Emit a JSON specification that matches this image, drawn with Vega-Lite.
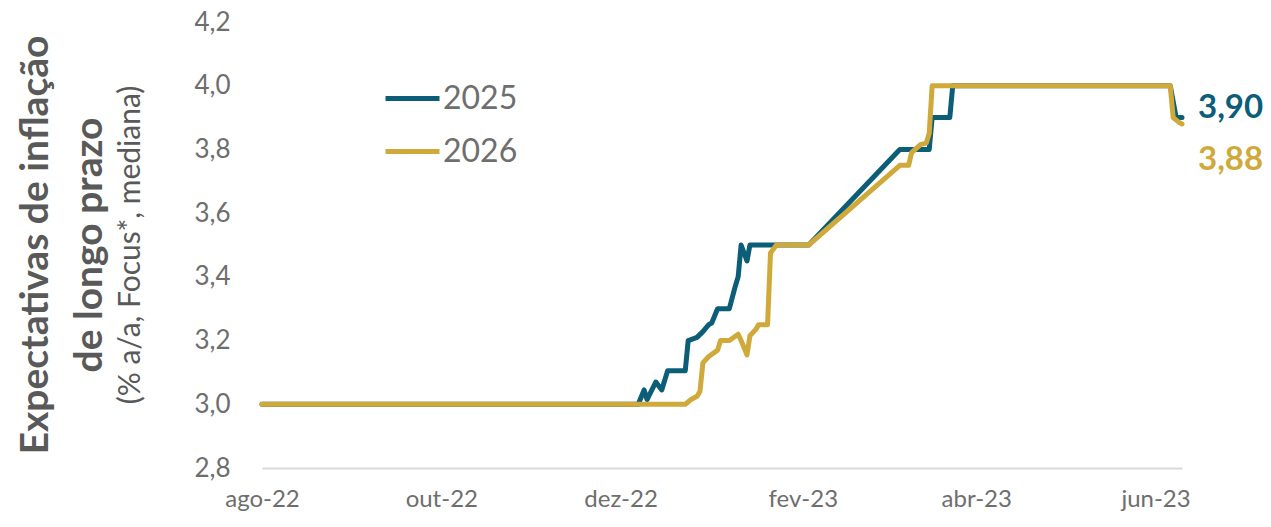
{
  "$schema": "https://vega.github.io/schema/vega-lite/v6.json",
  "autosize": {"type": "none"},
  "width": 920,
  "height": 446,
  "padding": {"left": 262, "top": 22, "right": 89, "bottom": 59},
  "background": "white",
  "config": {
    "view": {"stroke": null},
    "font": "Lato",
    "locale": {
      "number": {"decimal": ",", "thousands": ".", "grouping": [3], "currency": ["R$", ""]},
      "time": {
        "dateTime": "%A, %e de %B de %Y. %X",
        "date": "%d/%m/%Y",
        "time": "%H:%M:%S",
        "periods": ["AM", "PM"],
        "days": ["domingo", "segunda", "terça", "quarta", "quinta", "sexta", "sábado"],
        "shortDays": ["dom", "seg", "ter", "qua", "qui", "sex", "sáb"],
        "months": ["janeiro", "fevereiro", "março", "abril", "maio", "junho", "julho", "agosto", "setembro", "outubro", "novembro", "dezembro"],
        "shortMonths": ["jan", "fev", "mar", "abr", "mai", "jun", "jul", "ago", "set", "out", "nov", "dez"]
      }
    }
  },
  "title": {
    "text": ["Expectativas de inflação", "de longo prazo"],
    "subtitle": "(% a/a, Focus*, mediana)",
    "orient": "left",
    "anchor": "middle",
    "font": "Lato",
    "fontSize": 39,
    "fontWeight": "bold",
    "color": "#595959",
    "lineHeight": 54,
    "subtitleFont": "Lato",
    "subtitleFontSize": 30,
    "subtitleFontWeight": "normal",
    "subtitleColor": "#595959",
    "subtitlePadding": 6,
    "offset": 48
  },
  "data": {
    "values": [
      {"date": "2022-08-01", "series": "2025", "value": 3.0},
      {"date": "2022-12-07", "series": "2025", "value": 3.0},
      {"date": "2022-12-09", "series": "2025", "value": 3.045},
      {"date": "2022-12-10", "series": "2025", "value": 3.015},
      {"date": "2022-12-13", "series": "2025", "value": 3.07},
      {"date": "2022-12-15", "series": "2025", "value": 3.045},
      {"date": "2022-12-17", "series": "2025", "value": 3.105},
      {"date": "2022-12-23", "series": "2025", "value": 3.105},
      {"date": "2022-12-24", "series": "2025", "value": 3.2},
      {"date": "2022-12-27", "series": "2025", "value": 3.21},
      {"date": "2022-12-29", "series": "2025", "value": 3.228},
      {"date": "2022-12-31", "series": "2025", "value": 3.25},
      {"date": "2023-01-01", "series": "2025", "value": 3.255},
      {"date": "2023-01-03", "series": "2025", "value": 3.3},
      {"date": "2023-01-07", "series": "2025", "value": 3.3},
      {"date": "2023-01-09", "series": "2025", "value": 3.37},
      {"date": "2023-01-10", "series": "2025", "value": 3.4},
      {"date": "2023-01-11", "series": "2025", "value": 3.5},
      {"date": "2023-01-13", "series": "2025", "value": 3.45},
      {"date": "2023-01-14", "series": "2025", "value": 3.5},
      {"date": "2023-02-03", "series": "2025", "value": 3.5},
      {"date": "2023-03-06", "series": "2025", "value": 3.8},
      {"date": "2023-03-16", "series": "2025", "value": 3.8},
      {"date": "2023-03-17", "series": "2025", "value": 3.9},
      {"date": "2023-03-23", "series": "2025", "value": 3.9},
      {"date": "2023-03-24", "series": "2025", "value": 4.0},
      {"date": "2023-06-06", "series": "2025", "value": 4.0},
      {"date": "2023-06-08", "series": "2025", "value": 3.9},
      {"date": "2023-06-10", "series": "2025", "value": 3.9},
      {"date": "2022-08-01", "series": "2026", "value": 3.0},
      {"date": "2022-12-23", "series": "2026", "value": 3.0},
      {"date": "2022-12-25", "series": "2026", "value": 3.015},
      {"date": "2022-12-27", "series": "2026", "value": 3.025},
      {"date": "2022-12-28", "series": "2026", "value": 3.04},
      {"date": "2022-12-29", "series": "2026", "value": 3.13},
      {"date": "2022-12-31", "series": "2026", "value": 3.15},
      {"date": "2023-01-03", "series": "2026", "value": 3.17},
      {"date": "2023-01-04", "series": "2026", "value": 3.2},
      {"date": "2023-01-07", "series": "2026", "value": 3.2},
      {"date": "2023-01-10", "series": "2026", "value": 3.22},
      {"date": "2023-01-11", "series": "2026", "value": 3.2},
      {"date": "2023-01-13", "series": "2026", "value": 3.155},
      {"date": "2023-01-14", "series": "2026", "value": 3.215},
      {"date": "2023-01-16", "series": "2026", "value": 3.235},
      {"date": "2023-01-17", "series": "2026", "value": 3.25},
      {"date": "2023-01-20", "series": "2026", "value": 3.25},
      {"date": "2023-01-21", "series": "2026", "value": 3.475},
      {"date": "2023-01-23", "series": "2026", "value": 3.5},
      {"date": "2023-02-03", "series": "2026", "value": 3.5},
      {"date": "2023-03-06", "series": "2026", "value": 3.75},
      {"date": "2023-03-09", "series": "2026", "value": 3.75},
      {"date": "2023-03-10", "series": "2026", "value": 3.79},
      {"date": "2023-03-13", "series": "2026", "value": 3.815},
      {"date": "2023-03-15", "series": "2026", "value": 3.82},
      {"date": "2023-03-16", "series": "2026", "value": 3.85},
      {"date": "2023-03-17", "series": "2026", "value": 4.0},
      {"date": "2023-06-06", "series": "2026", "value": 4.0},
      {"date": "2023-06-07", "series": "2026", "value": 3.9},
      {"date": "2023-06-09", "series": "2026", "value": 3.885},
      {"date": "2023-06-10", "series": "2026", "value": 3.88}
    ]
  },
  "encoding": {
    "x": {
      "field": "date",
      "type": "temporal",
      "scale": {"type": "utc", "domain": [{"year": 2022, "month": 8, "date": 1, "utc": true}, {"year": 2023, "month": 6, "date": 10, "utc": true}]},
      "axis": {
        "title": null,
        "values": [
          {"year": 2022, "month": 8, "date": 1, "utc": true},
          {"year": 2022, "month": 10, "date": 1, "utc": true},
          {"year": 2022, "month": 12, "date": 1, "utc": true},
          {"year": 2023, "month": 2, "date": 1, "utc": true},
          {"year": 2023, "month": 4, "date": 1, "utc": true},
          {"year": 2023, "month": 6, "date": 1, "utc": true}
        ],
        "format": "%b-%y",
        "grid": false,
        "ticks": false,
        "domain": true,
        "domainColor": "#d9d9d9",
        "domainWidth": 2,
        "labelFont": "Lato",
        "labelFontSize": 24,
        "labelColor": "#6e6e6e",
        "labelPadding": 19,
        "labelFlush": false,
        "labelOverlap": false
      }
    },
    "y": {
      "field": "value",
      "type": "quantitative",
      "scale": {"domain": [2.8, 4.2], "nice": false, "zero": false},
      "axis": {
        "title": null,
        "values": [2.8, 3.0, 3.2, 3.4, 3.6, 3.8, 4.0, 4.2],
        "format": ".1f",
        "grid": false,
        "ticks": false,
        "domain": false,
        "labelFont": "Lato",
        "labelFontSize": 26,
        "labelColor": "#6e6e6e",
        "labelPadding": 32
      }
    }
  },
  "layer": [
    {
      "mark": {"type": "line", "strokeWidth": 5, "strokeCap": "round", "strokeJoin": "round"},
      "encoding": {
        "color": {
          "field": "series",
          "type": "nominal",
          "scale": {"domain": ["2025", "2026"], "range": ["#0b5d78", "#cfa93a"]},
          "legend": {
            "title": null,
            "orient": "none",
            "legendX": 121,
            "legendY": 47,
            "symbolType": "stroke",
            "symbolSize": 2916,
            "symbolStrokeWidth": 5,
            "labelFont": "Lato",
            "labelFontSize": 32,
            "labelColor": "#6e6e6e",
            "labelOffset": 1,
            "rowPadding": 7,
            "padding": 0
          }
        }
      }
    },
    {
      "transform": [{"filter": "datum.series == '2025' && time(datum.date) == utc(2023, 5, 10)"}],
      "mark": {"type": "text", "align": "left", "baseline": "middle", "dx": 16, "dy": -10, "font": "Lato", "fontSize": 33, "fontWeight": "bold", "color": "#0b5d78"},
      "encoding": {"text": {"field": "value", "type": "quantitative", "format": ".2f"}}
    },
    {
      "transform": [{"filter": "datum.series == '2026' && time(datum.date) == utc(2023, 5, 10)"}],
      "mark": {"type": "text", "align": "left", "baseline": "middle", "dx": 16, "dy": 36, "font": "Lato", "fontSize": 33, "fontWeight": "bold", "color": "#cfa93a"},
      "encoding": {"text": {"field": "value", "type": "quantitative", "format": ".2f"}}
    }
  ]
}
